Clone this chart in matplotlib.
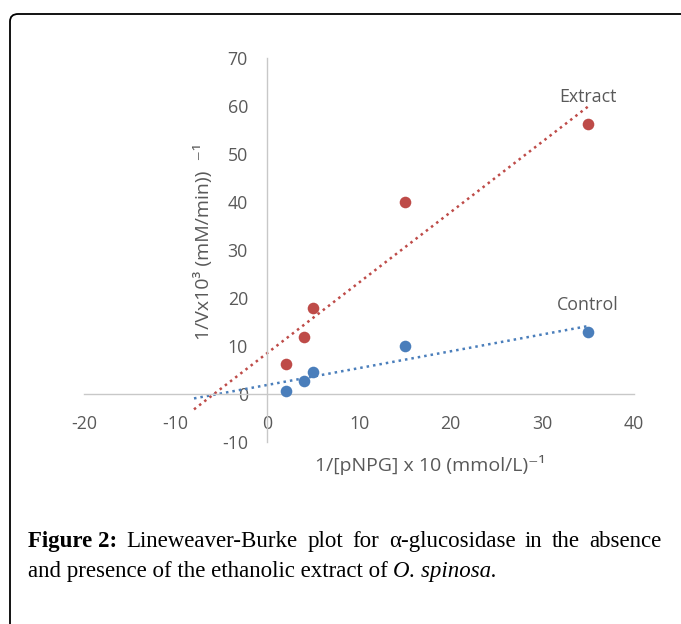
import numpy as np
import matplotlib
matplotlib.use("Agg")
import matplotlib.pyplot as plt
from matplotlib.patches import FancyBboxPatch

# data
inv_s = [2, 4, 5, 15, 35]
control = [0.7, 2.6, 4.5, 10.0, 13.0]
extract = [6.2, 11.9, 18.0, 40.0, 56.2]
xticks = [-20, -10, 0, 10, 20, 30, 40]
yticks = [-10, 0, 10, 20, 30, 40, 50, 60, 70]

blue = "#4A7EBB"
red = "#BE4B48"
gray = "#595959"

plt.rcParams['font.family'] = ['Open Sans', 'DejaVu Sans']
plt.rcParams['axes.unicode_minus'] = False

fig = plt.figure(figsize=(6.81, 6.24), dpi=100)

# frame around figure + caption
frame = FancyBboxPatch((10/681, -0.2), 1.2, 1 - 14/624 + 0.2,
                       boxstyle="round,pad=0,rounding_size=0.012",
                       transform=fig.transFigure, fill=False,
                       edgecolor="black", linewidth=1.3)
fig.patches.append(frame)

ax = fig.add_axes([84/681, 1 - 441.9/624, 550/681, 383.6/624])
ax.set_xlim(-20, 40)
ax.set_ylim(-10, 70)

for s in ["top", "right"]:
    ax.spines[s].set_visible(False)
ax.spines["left"].set_position(("data", 0))
ax.spines["bottom"].set_position(("data", 0))
for s in ["left", "bottom"]:
    ax.spines[s].set_color("#C8C8C8")
    ax.spines[s].set_linewidth(1.0)

ax.set_xticks(xticks)
ax.set_yticks(yticks)
ax.tick_params(axis="x", length=0, pad=15, labelsize=12.8, labelcolor=gray)
ax.tick_params(axis="y", length=0, pad=14, labelsize=12.8, labelcolor=gray)

# trendlines (linear fit, forecast backward 8 units)
for ys, c in [(control, blue), (extract, red)]:
    k, b = np.polyfit(inv_s, ys, 1)
    xx = np.array([-8, 35])
    ax.plot(xx, k * xx + b, color=c, linestyle=(0, (1, 1.6)), linewidth=1.8,
            zorder=2)

ax.scatter(inv_s, control, s=70, color=blue, zorder=3, linewidths=0)
ax.scatter(inv_s, extract, s=70, color=red, zorder=3, linewidths=0)

ax.text(35, 62, "Extract", ha="center", va="center", fontsize=12.8, color=gray)
ax.text(35, 18.6, "Control", ha="center", va="center", fontsize=12.8, color=gray)

fig.text(430/681, 1 - 465/624, "1/[pNPG] x 10 (mmol/L)⁻¹",
         ha="center", va="center", fontsize=14, color=gray)
fig.text(203/681, 1 - 242/624, "1/Vx10³ (mM/min))  ⁻¹",
         ha="center", va="center", rotation=90, fontsize=14, color=gray)

# caption, first line justified between x0 and x1
serif = ['Liberation Serif', 'DejaVu Serif']
fs = 16.5
x0, x1 = 28 / 681, 662 / 681
y1, y2 = 1 - 547 / 624, 1 - 577 / 624
words = [("Figure 2:", "bold"), ("Lineweaver-Burke", "normal"), ("plot", "normal"),
         ("for", "normal"), ("α-glucosidase", "normal"), ("in", "normal"),
         ("the", "normal"), ("absence", "normal")]
renderer = fig.canvas.get_renderer()
arts = []
total = 0
for w, wt in words:
    t = fig.text(0, y1, w, fontsize=fs, family=serif, weight=wt,
                 ha="left", va="baseline")
    wdt = t.get_window_extent(renderer).width / fig.bbox.width
    arts.append((t, wdt))
    total += wdt
gap = (x1 - x0 - total) / (len(words) - 1)
xpos = x0
for t, wdt in arts:
    t.set_x(xpos)
    xpos += wdt + gap

t = fig.text(x0, y2, "and presence of the ethanolic extract of ", fontsize=fs,
             family=serif, ha="left", va="baseline")
w = t.get_window_extent(renderer).width / fig.bbox.width
fig.text(x0 + w, y2, "O. spinosa.", fontsize=fs, family=serif,
         style="italic", ha="left", va="baseline")

fig.savefig("out.png", dpi=100)
